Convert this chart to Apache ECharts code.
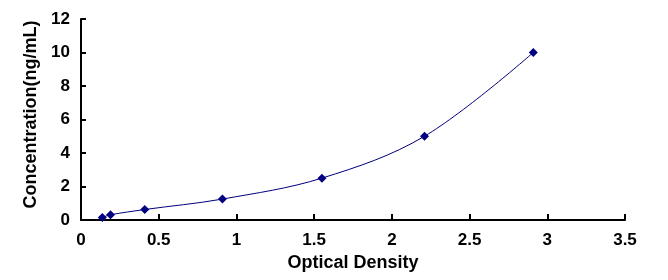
<!DOCTYPE html>
<html>
<head>
<meta charset="utf-8">
<script src="https://cdn.jsdelivr.net/npm/echarts@6/dist/echarts.min.js"></script>
<style>
  html, body { margin: 0; padding: 0; background: #fff; }
  #chart { width: 668px; height: 280px; }
</style>
</head>
<body>
<div id="chart"></div>
<script>
// standard curve points
var odValues = [0.137, 0.19, 0.41, 0.91, 1.55, 2.21, 2.91];
var concValues = [0.156, 0.312, 0.625, 1.25, 2.5, 5, 10];

var chart = echarts.init(document.getElementById('chart'));

var points = [];
for (var i = 0; i < odValues.length; i++) {
    points.push([odValues[i], concValues[i]]);
}

var tickFont = { fontFamily: 'Liberation Sans, Arial', fontWeight: 'bold', fontSize: 17, color: '#000' };
var nameFont = { fontFamily: 'Liberation Sans, Arial', fontWeight: 'bold', fontSize: 18, color: '#000' };

var option = {
    backgroundColor: '#fff',
    animation: false,
    grid: { left: 81, right: 43, top: 19, bottom: 60 },
    xAxis: {
        type: 'value',
        min: 0, max: 3.5, interval: 0.5,
        name: 'Optical Density',
        nameLocation: 'middle',
        nameGap: 34,
        nameTextStyle: nameFont,
        axisLine: { lineStyle: { color: '#000', width: 2 } },
        axisTick: { inside: true, length: 6, lineStyle: { color: '#000', width: 2 } },
        axisLabel: Object.assign({ margin: 12 }, tickFont),
        splitLine: { show: false }
    },
    yAxis: {
        type: 'value',
        min: 0, max: 12, interval: 2,
        name: 'Concentration(ng/mL)',
        nameLocation: 'middle',
        nameGap: 38,
        nameTextStyle: Object.assign({ padding: [0, 0, 0, 10] }, nameFont),
        axisLine: { show: true, lineStyle: { color: '#000', width: 2 } },
        axisTick: { show: true, inside: true, length: 5, lineStyle: { color: '#000', width: 2 } },
        axisLabel: Object.assign({ margin: 11 }, tickFont),
        splitLine: { show: false }
    },
    series: [
        {
            type: 'line',
            data: points,
            smooth: 0.35,
            symbol: 'diamond',
            symbolSize: 9,
            itemStyle: { color: '#000080' },
            lineStyle: { color: '#000080', width: 1 }
        }
    ]
};
chart.setOption(option);
</script>
</body>
</html>
